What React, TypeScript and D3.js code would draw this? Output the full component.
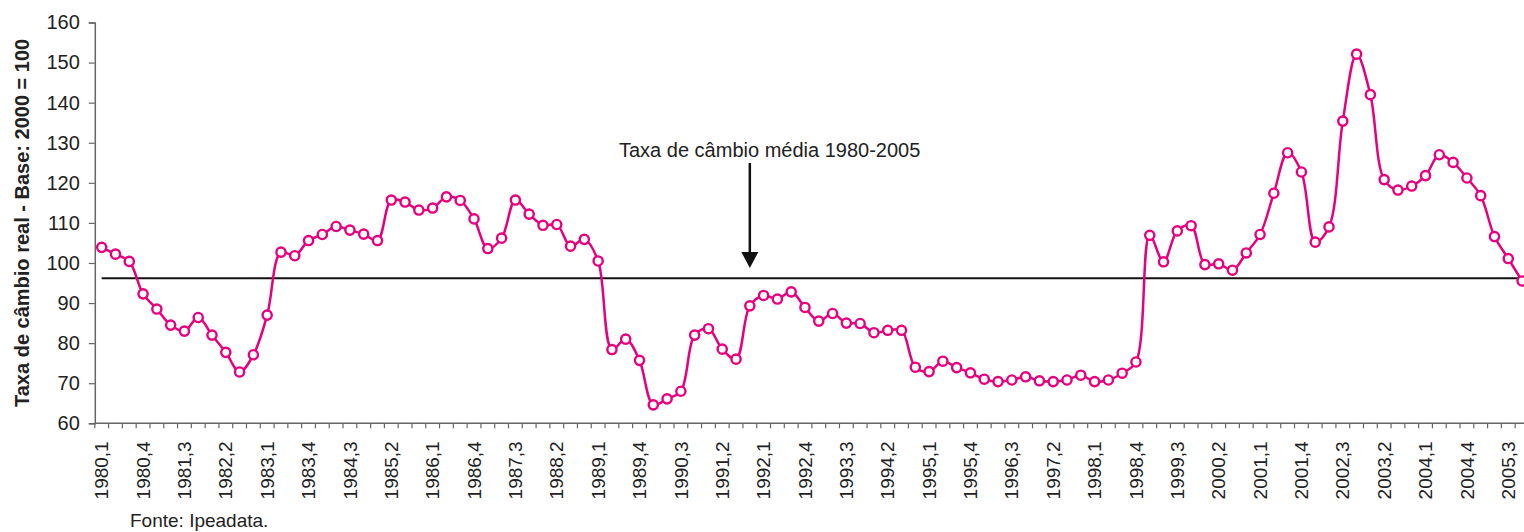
import React, { useRef, useEffect } from 'react';
import * as d3 from 'd3';

const YEARS = d3.range(1980, 2006);
const QUARTERS = [1, 2, 3, 4];

const CATEGORIES: string[] = YEARS.flatMap(y => QUARTERS.map(q => `${y},${q}`));

const EXCHANGE_RATE: number[] = [
    103.9, 102.2, 100.4, 92.3, 88.5, 84.5, 83.0, 86.4, 82.0, 77.7, 72.8, 77.1, 87.0,
    102.7, 101.8, 105.6, 107.1, 109.1, 108.2, 107.2, 105.6, 115.7, 115.2, 113.2, 113.7,
    116.5, 115.6, 111.0, 103.6, 106.2, 115.7, 112.2, 109.4, 109.6, 104.2, 105.9, 100.5,
    78.4, 81.0, 75.7, 64.6, 66.1, 68.0, 82.0, 83.6, 78.5, 76.0, 89.3, 91.9, 91.0,
    92.8, 88.9, 85.5, 87.4, 85.0, 84.9, 82.6, 83.2, 83.2, 74.0, 72.9, 75.5, 73.9,
    72.6, 71.0, 70.4, 70.8, 71.6, 70.6, 70.4, 70.8, 72.0, 70.4, 70.8, 72.5, 75.3,
    106.9, 100.3, 108.0, 109.3, 99.6, 99.8, 98.2, 102.5, 107.1, 117.4, 127.5, 122.7,
    105.2, 109.0, 135.4, 152.1, 142.0, 120.8, 118.2, 119.2, 121.8, 127.0, 125.1, 121.2,
    116.8, 106.6, 101.1, 95.5
];

const MEAN_RATE = 96.2;
const Y_TICKS = d3.range(60, 161, 10);
const ANNOTATION = "Taxa de câmbio média 1980-2005";
const ANNOTATION_INDEX = 47;
const Y_LABEL = "Taxa de câmbio real - Base: 2000 = 100";
const SOURCE = "Fonte: Ipeadata.";

const WIDTH = 1524;
const HEIGHT = 532;
const PINK = "#e6007e";
const AXIS_GRAY = "#666";
const TEXT = "#222";
const FONT = "'Liberation Sans', Arial, sans-serif";

const App: React.FC = () => {
    const svgRef = useRef<SVGSVGElement>(null);

    useEffect(() => {
        if (!svgRef.current) return;
        const svg = d3.select(svgRef.current);
        svg.selectAll("*").remove();

        const plotLeft = 94.8;
        const band = 13.79;
        const xScale = d3.scaleBand<number>()
            .domain(d3.range(CATEGORIES.length))
            .range([plotLeft, plotLeft + band * CATEGORIES.length])
            .paddingInner(0).paddingOuter(0);
        const cx = (i: number) => (xScale(i) as number) + xScale.bandwidth() / 2;

        const yScale = d3.scaleLinear().domain([60, 160]).range([423.3, 22.5]);
        const axisY = yScale(60);

        // y axis
        const yAxis = svg.append("g")
            .attr("transform", `translate(${plotLeft},0)`)
            .call(d3.axisLeft(yScale).tickValues(Y_TICKS).tickSize(6).tickPadding(9).tickFormat(d3.format("d")));
        yAxis.select(".domain").attr("stroke", AXIS_GRAY).attr("stroke-width", 1.5);
        yAxis.selectAll(".tick line").attr("stroke", AXIS_GRAY).attr("stroke-width", 1.2);
        yAxis.selectAll(".tick text")
            .attr("fill", TEXT)
            .style("font-family", FONT)
            .style("font-size", "20px");

        // x axis line + ticks at band edges
        const xg = svg.append("g");
        xg.append("line")
            .attr("x1", plotLeft).attr("x2", WIDTH)
            .attr("y1", axisY).attr("y2", axisY)
            .attr("stroke", AXIS_GRAY).attr("stroke-width", 1.5);
        xg.selectAll("line.tick")
            .data(d3.range(CATEGORIES.length + 1))
            .join("line")
            .attr("class", "tick")
            .attr("x1", i => plotLeft + i * xScale.bandwidth())
            .attr("x2", i => plotLeft + i * xScale.bandwidth())
            .attr("y1", axisY).attr("y2", axisY + 5)
            .attr("stroke", AXIS_GRAY).attr("stroke-width", 1.2);

        xg.selectAll("text")
            .data(d3.range(0, CATEGORIES.length, 3))
            .join("text")
            .attr("transform", i => `translate(${cx(i)},${axisY + 18}) rotate(-90)`)
            .attr("dy", "0.35em")
            .attr("text-anchor", "end")
            .attr("fill", TEXT)
            .style("font-family", FONT)
            .style("font-size", "19px")
            .text(i => CATEGORIES[i]);

        // y label
        svg.append("text")
            .attr("transform", `translate(29,${(yScale(60) + yScale(160)) / 2}) rotate(-90)`)
            .attr("text-anchor", "middle")
            .attr("fill", TEXT)
            .style("font-family", FONT)
            .style("font-size", "20px")
            .style("font-weight", "bold")
            .text(Y_LABEL);

        // mean line
        svg.append("line")
            .attr("x1", cx(0)).attr("x2", WIDTH)
            .attr("y1", yScale(MEAN_RATE)).attr("y2", yScale(MEAN_RATE))
            .attr("stroke", "#111").attr("stroke-width", 2);

        // annotation
        const ax = cx(ANNOTATION_INDEX);
        svg.append("text")
            .attr("x", 619).attr("y", 157)
            .attr("fill", TEXT)
            .style("font-family", FONT)
            .style("font-size", "20px")
            .text(ANNOTATION);
        svg.append("line")
            .attr("x1", ax).attr("x2", ax)
            .attr("y1", 163).attr("y2", 254)
            .attr("stroke", "#111").attr("stroke-width", 2.5);
        svg.append("path")
            .attr("d", `M${ax - 8.5},252 L${ax + 8.5},252 L${ax},268 Z`)
            .attr("fill", "#111");

        // series
        const line = d3.line<number>()
            .x((_, i) => cx(i))
            .y(d => yScale(d))
            .curve(d3.curveCatmullRom.alpha(0.5));

        svg.append("path")
            .datum(EXCHANGE_RATE)
            .attr("d", line)
            .attr("fill", "none")
            .attr("stroke", PINK)
            .attr("stroke-width", 2.5);

        svg.selectAll("circle")
            .data(EXCHANGE_RATE)
            .join("circle")
            .attr("cx", (_, i) => cx(i))
            .attr("cy", d => yScale(d))
            .attr("r", 4.6)
            .attr("fill", "white")
            .attr("stroke", PINK)
            .attr("stroke-width", 2.4);

        // source
        svg.append("text")
            .attr("x", 130).attr("y", 527)
            .attr("fill", TEXT)
            .style("font-family", FONT)
            .style("font-size", "19px")
            .text(SOURCE);
    }, []);

    return (
        <div style={{ position: 'absolute', left: 0, top: 0, width: WIDTH, height: HEIGHT, background: 'white' }}>
            <svg ref={svgRef} width={WIDTH} height={HEIGHT} style={{ display: 'block' }} />
        </div>
    );
};

export default App;
